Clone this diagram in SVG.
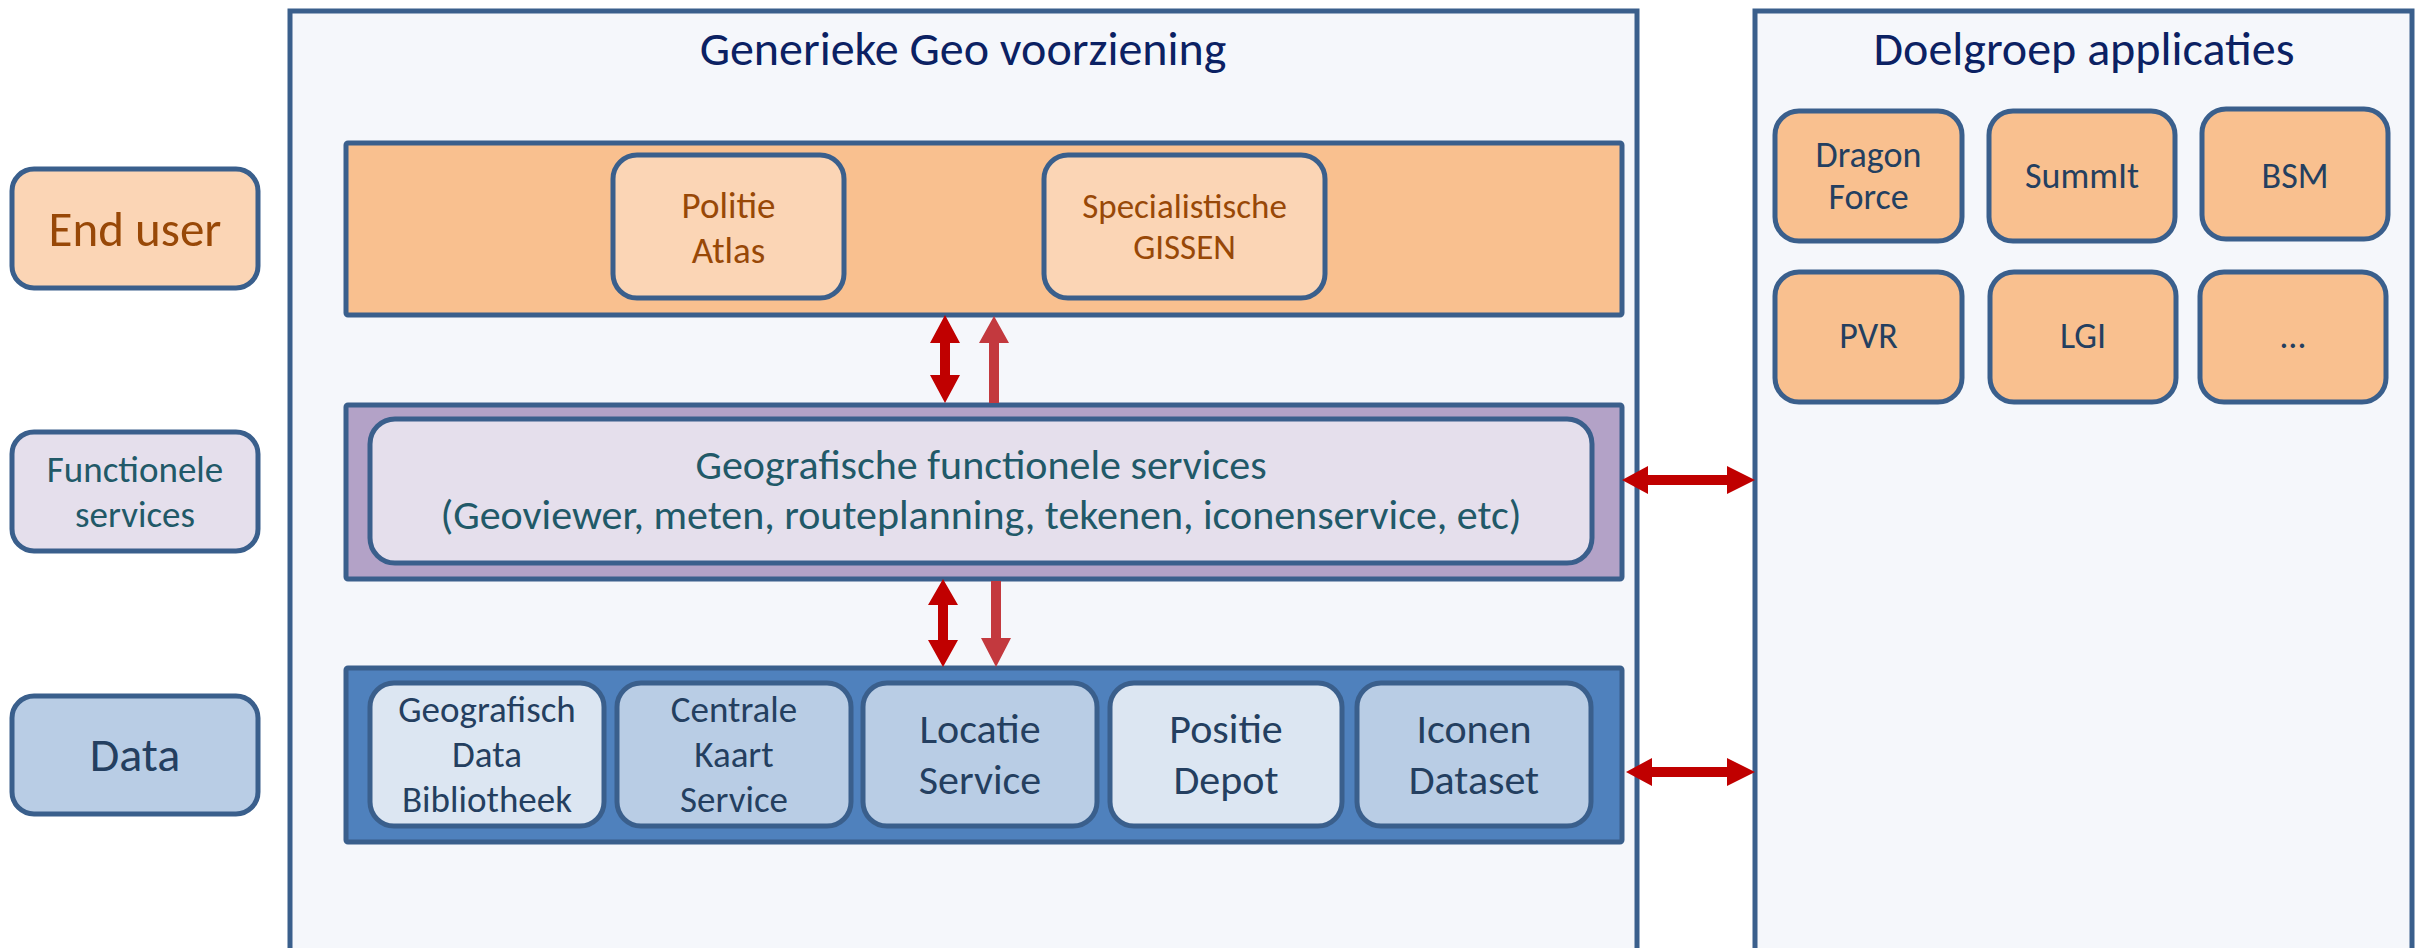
<svg xmlns="http://www.w3.org/2000/svg" width="2417" height="948" viewBox="0 0 2417 948">
<style>
text{font-family:Carlito,Lato,"Liberation Sans",sans-serif;text-anchor:middle}
.box{stroke:#3A5F8C;stroke-width:5}
.t-title{font-size:48px;fill:#0B2163}
.t-eu{fill:#984807}
.t-fs{fill:#215968}
.t-d{fill:#243F60}
.dark{fill:#C00000}
.light{fill:#C3393E}
</style>
<rect width="2417" height="948" fill="#FFFFFF"/>
<g id="geo-container">
<rect class="box" x="290" y="11" width="1347" height="950" fill="#F5F7FB"/>
<text class="t-title" x="963" y="65">Generieke Geo voorziening</text>
</g>
<g id="doelgroep-container">
<rect class="box" x="1755" y="11" width="657" height="950" fill="#F5F7FB"/>
<text class="t-title" x="2084" y="65">Doelgroep applicaties</text>
</g>
<g id="label-enduser">
<rect class="box" x="12" y="169" width="246" height="119" rx="22" fill="#FBD5B5"/>
<text class="t-eu" x="135" y="246" font-size="49">End user</text>
</g>
<g id="label-functionele">
<rect class="box" x="12" y="432" width="246" height="119" rx="22" fill="#E5DFEC"/>
<text class="t-fs" x="135" y="482" font-size="37">Functionele</text>
<text class="t-fs" x="135" y="527" font-size="37">services</text>
</g>
<g id="label-data">
<rect class="box" x="12" y="696" width="246" height="118" rx="22" fill="#B9CDE5"/>
<text class="t-d" x="135" y="771" font-size="48">Data</text>
</g>
<g id="enduser-layer">
<rect class="box" x="346" y="143" width="1276" height="172" rx="2" fill="#F9C08F"/>
</g>
<g id="politie-atlas">
<rect class="box" x="613" y="155" width="231" height="143" rx="24" fill="#FBD5B5"/>
<text class="t-eu" x="728.5" y="218" font-size="37">Politie</text>
<text class="t-eu" x="728.5" y="263" font-size="37">Atlas</text>
</g>
<g id="specialistische-gissen">
<rect class="box" x="1044" y="155" width="281" height="143" rx="24" fill="#FBD5B5"/>
<text class="t-eu" x="1184.5" y="218" font-size="35">Specialistische</text>
<text class="t-eu" x="1184.5" y="259" font-size="35">GISSEN</text>
</g>
<g id="functional-layer">
<rect class="box" x="346" y="405" width="1276" height="174" rx="2" fill="#B3A2C7"/>
</g>
<g id="geo-functionele-services">
<rect class="box" x="370" y="419" width="1222" height="144" rx="25" fill="#E5DFEC"/>
<text class="t-fs" x="981" y="479" font-size="42">Geografische functionele services</text>
<text class="t-fs" x="981" y="529" font-size="42">(Geoviewer, meten, routeplanning, tekenen, iconenservice, etc)</text>
</g>
<g id="data-layer">
<rect class="box" x="346" y="668" width="1276" height="174" rx="2" fill="#4F81BD"/>
</g>
<g id="geografisch-data-bibliotheek">
<rect class="box" x="370" y="683" width="234" height="143" rx="24" fill="#DCE6F2"/>
<text class="t-d" x="487" y="722" font-size="37">Geografisch</text>
<text class="t-d" x="487" y="767" font-size="37">Data</text>
<text class="t-d" x="487" y="812" font-size="37">Bibliotheek</text>
</g>
<g id="centrale-kaart-service">
<rect class="box" x="617" y="683" width="234" height="143" rx="24" fill="#B9CDE5"/>
<text class="t-d" x="734" y="722" font-size="37">Centrale</text>
<text class="t-d" x="734" y="767" font-size="37">Kaart</text>
<text class="t-d" x="734" y="812" font-size="37">Service</text>
</g>
<g id="locatie-service">
<rect class="box" x="863" y="683" width="234" height="143" rx="24" fill="#B9CDE5"/>
<text class="t-d" x="980" y="743" font-size="42">Locatie</text>
<text class="t-d" x="980" y="794" font-size="42">Service</text>
</g>
<g id="positie-depot">
<rect class="box" x="1110" y="683" width="232" height="143" rx="24" fill="#DCE6F2"/>
<text class="t-d" x="1226" y="743" font-size="42">Positie</text>
<text class="t-d" x="1226" y="794" font-size="42">Depot</text>
</g>
<g id="iconen-dataset">
<rect class="box" x="1357" y="683" width="234" height="143" rx="24" fill="#B9CDE5"/>
<text class="t-d" x="1474" y="743" font-size="42">Iconen</text>
<text class="t-d" x="1474" y="794" font-size="42">Dataset</text>
</g>
<g id="app-dragonforce">
<rect class="box" x="1775" y="111" width="187" height="130" rx="24" fill="#F9C08F"/>
<text class="t-d" x="1868.5" y="167" font-size="36">Dragon</text>
<text class="t-d" x="1868.5" y="209" font-size="36">Force</text>
</g>
<g id="app-summit">
<rect class="box" x="1989" y="111" width="186" height="130" rx="24" fill="#F9C08F"/>
<text class="t-d" x="2082" y="188" font-size="36">SummIt</text>
</g>
<g id="app-bsm">
<rect class="box" x="2202" y="109" width="186" height="130" rx="24" fill="#F9C08F"/>
<text class="t-d" x="2295" y="188" font-size="36">BSM</text>
</g>
<g id="app-pvr">
<rect class="box" x="1775" y="272" width="187" height="130" rx="24" fill="#F9C08F"/>
<text class="t-d" x="1868.5" y="348" font-size="36">PVR</text>
</g>
<g id="app-lgi">
<rect class="box" x="1990" y="272" width="186" height="130" rx="24" fill="#F9C08F"/>
<text class="t-d" x="2083" y="348" font-size="36">LGI</text>
</g>
<g id="app-more">
<rect class="box" x="2200" y="272" width="186" height="130" rx="24" fill="#F9C08F"/>
<text class="t-d" x="2293" y="348" font-size="36">…</text>
</g>
<g id="connectors">
<path class="dark" d="M945,315 L960,343 L950,343 L950,375 L960,375 L945,403 L930,375 L940,375 L940,343 L930,343 Z"/>
<path class="light" d="M994,316 L1009,343 L999,343 L999,403 L989,403 L989,343 L979,343 Z"/>
<path class="dark" d="M943,579 L958,605 L948,605 L948,640 L958,640 L943,667 L928,640 L938,640 L938,605 L928,605 Z"/>
<path class="light" d="M991,581 L1001,581 L1001,638 L1011,638 L996,667 L981,638 L991,638 Z"/>
<path class="dark" d="M1622,480 L1648,466 L1648,475 L1727,475 L1727,466 L1755,480 L1727,494 L1727,485 L1648,485 L1648,494 Z"/>
<path class="dark" d="M1626,772 L1652,758 L1652,767 L1727,767 L1727,758 L1755,772 L1727,786 L1727,777 L1652,777 L1652,786 Z"/>
</g>
</svg>
